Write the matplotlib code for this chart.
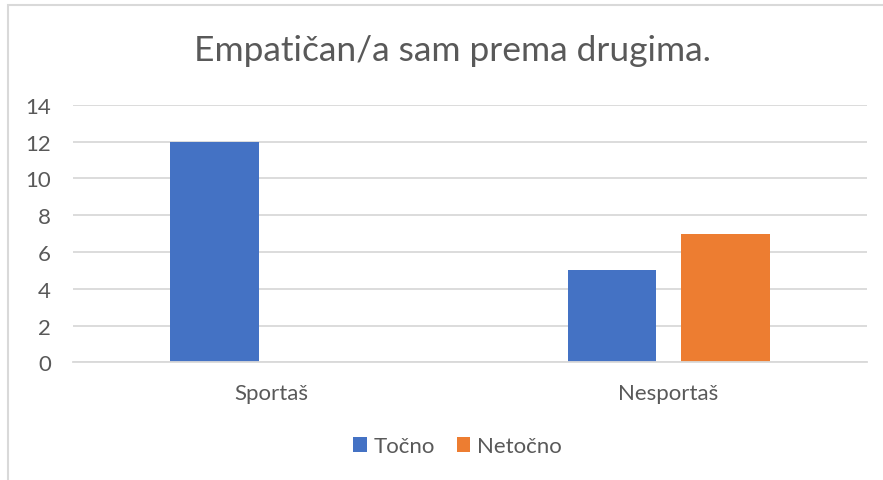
import numpy as np
import matplotlib.pyplot as plt
from matplotlib.patches import Rectangle

# data
categories = ['Sportaš', 'Nesportaš']
tocno = [12, 5]
netocno = [0, 7]
series_names = ['Točno', 'Netočno']
yticks = [0, 2, 4, 6, 8, 10, 12, 14]

blue = '#4472c4'
orange = '#ed7d31'
txt = '#595959'
grid = '#d9d9d9'

plt.rcParams['font.family'] = ['Lato', 'DejaVu Sans']

fig = plt.figure(figsize=(8.83, 4.81), dpi=100)
ax = fig.add_axes([0.0827, 0.2443, 0.8993, 0.5357])

x = np.arange(len(categories))
w = 0.223
off = 0.143
ax.bar(x - off, tocno, w, color=blue, label=series_names[0])
ax.bar(x + off, netocno, w, color=orange, label=series_names[1])

ax.set_xlim(-0.5, len(categories) - 0.5)
ax.set_ylim(0, 14)
ax.set_yticks(yticks)
ax.set_xticks(x)
ax.set_xticklabels(categories)
ax.yaxis.grid(True, color=grid, linewidth=1.3)
ax.set_axisbelow(True)
for s in ['top', 'right', 'left']:
    ax.spines[s].set_visible(False)
ax.spines['bottom'].set_color(grid)
ax.spines['bottom'].set_linewidth(1.3)
ax.tick_params(length=0, colors=txt, labelsize=16)
ax.tick_params(axis='x', pad=15)
ax.tick_params(axis='y', pad=16)

fig.text(0.512, 0.895, 'Empatičan/a sam prema drugima.', ha='center', va='center',
         fontsize=25.5, color=txt)

leg = fig.legend(loc='center', bbox_to_anchor=(0.518, 0.07), ncol=2, frameon=False,
                 fontsize=16, handlelength=0.6, handleheight=0.6,
                 handletextpad=0.3, columnspacing=1.0)
for t in leg.get_texts():
    t.set_color(txt)

# chart border
fig.patches.append(Rectangle((8 / 883, -0.05), 1.0, 1.05 - 6 / 481, transform=fig.transFigure,
                             fill=False, edgecolor=grid, linewidth=1.5))

fig.savefig('out.png', dpi=100)
